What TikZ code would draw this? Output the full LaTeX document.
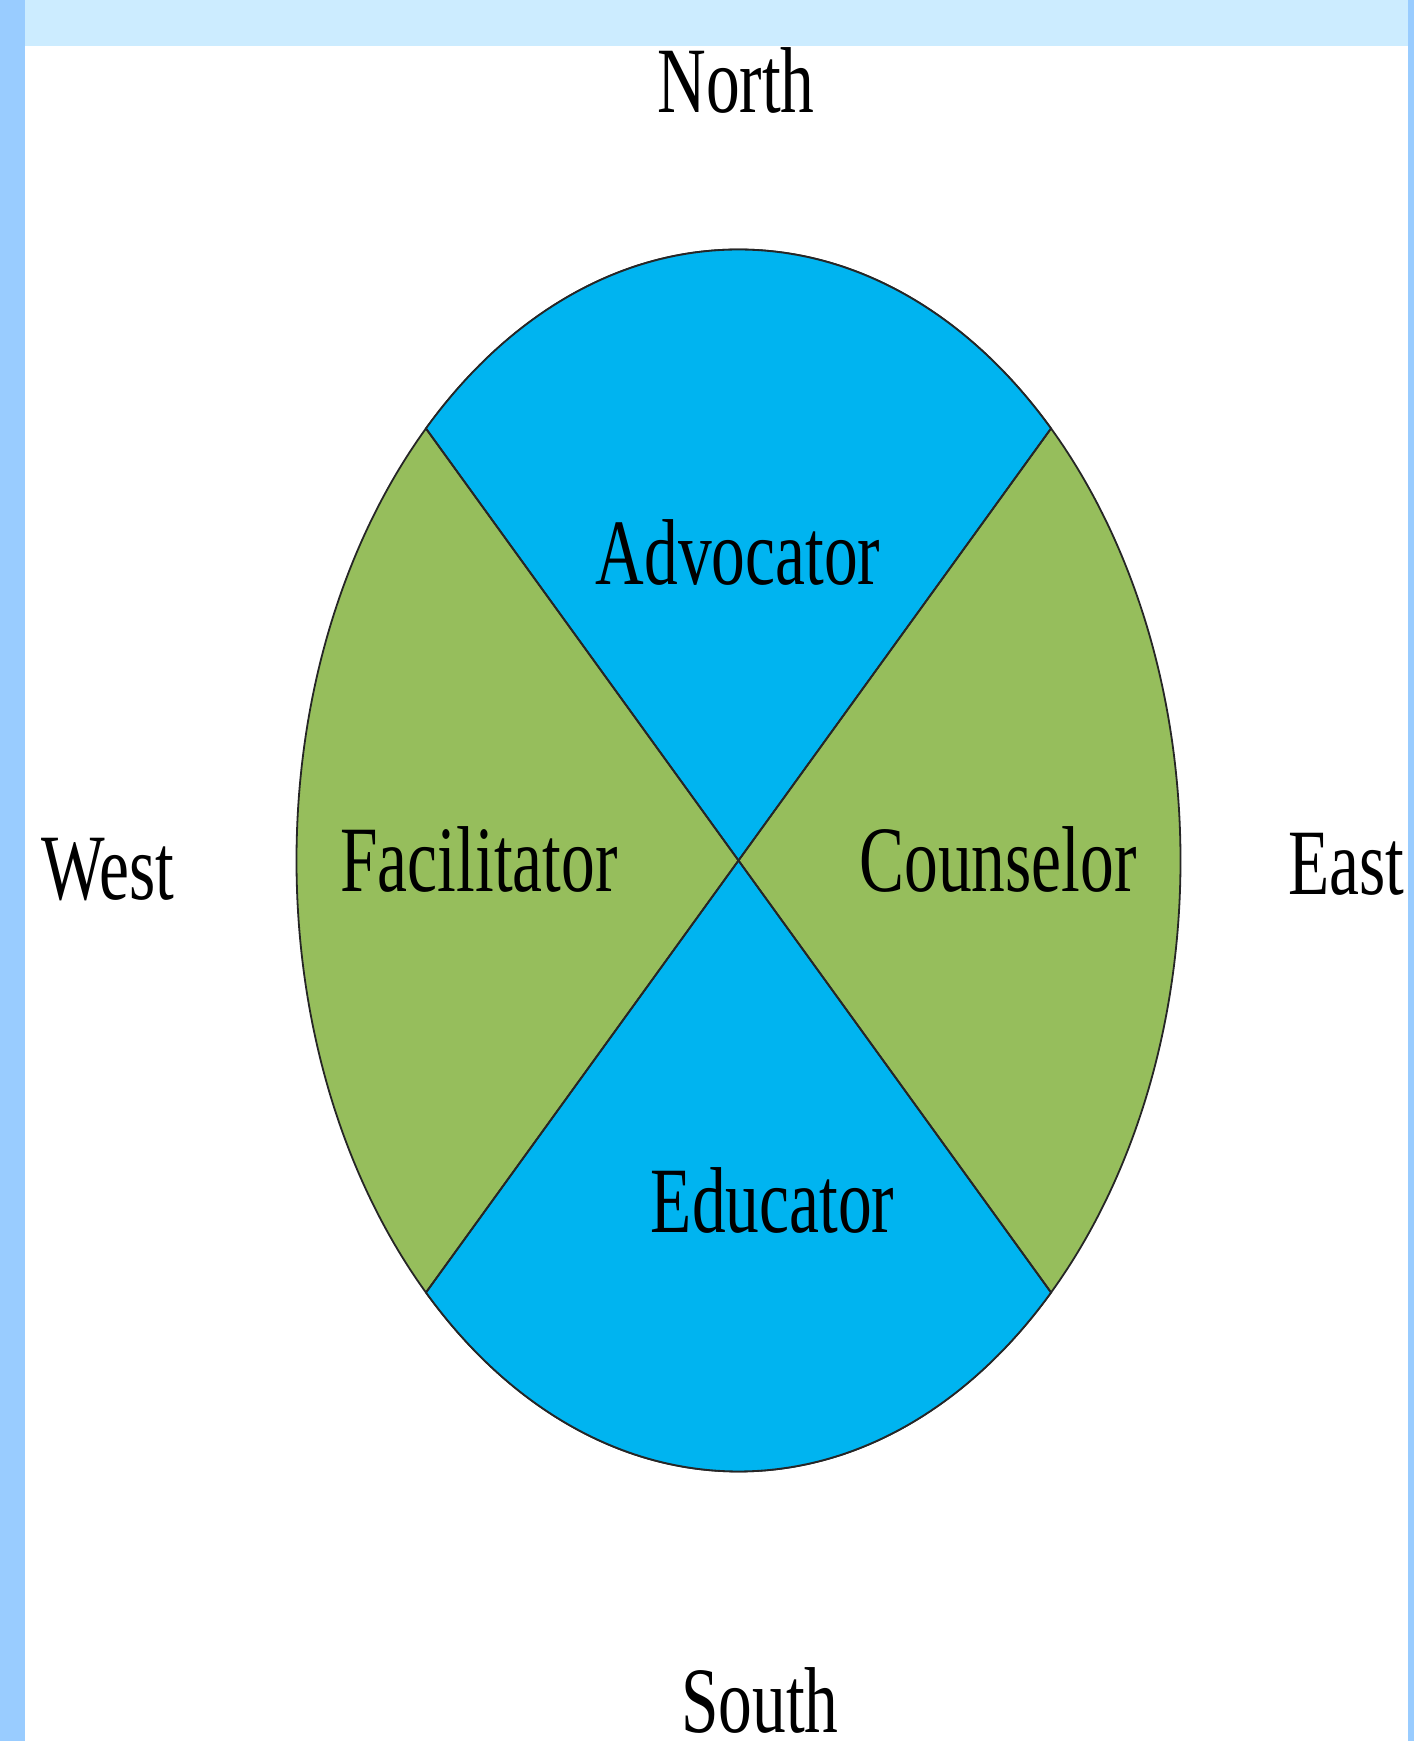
\documentclass[tikz,border=0pt]{standalone}
\usepackage{fontspec}
\setmainfont{Liberation Serif}

\definecolor{framebar}{HTML}{99CCFF}
\definecolor{topband}{HTML}{CCECFF}
\definecolor{roleblue}{HTML}{00B4F0}
\definecolor{rolegreen}{HTML}{96BE5C}

\begin{document}
\begin{tikzpicture}[
            x = 0.5pt, y = 0.5pt, % one unit per pixel
            word/.style = {font=\fontsize{46.8}{50}\selectfont,
            xscale=0.72, anchor=base, inner sep=0pt},
            sector/.style = {draw=black!85, line width=0.9pt},
            ]
            \useasboundingbox (0,0) rectangle (1414,1741);

            % frame around the slide
            \fill[framebar] (0,0) rectangle (25,1741);
            \fill[framebar] (1408,0) rectangle (1414,1741);
            \fill[topband] (25,1695) rectangle (1408,1741);

            % centre of the wheel and the four rim points
            \coordinate (c) at (738.5,880.5);
            \coordinate (ne) at (1051,1312.5);
            \coordinate (nw) at (426,1312.5);
            \coordinate (sw) at (426,448.5);
            \coordinate (se) at (1051,448.5);

            \filldraw[sector, fill=rolegreen] (c) ellipse [x radius=221pt, y radius=305.5pt];
            \filldraw[sector, fill=roleblue] (c) -- (ne)
            arc [start angle=45, end angle=135, x radius=221pt, y radius=305.5pt] -- cycle;
            \filldraw[sector, fill=roleblue] (c) -- (sw)
            arc [start angle=225, end angle=315, x radius=221pt, y radius=305.5pt] -- cycle;
            \draw[sector] (nw) -- (se);
            \draw[sector] (ne) -- (sw);

            % roles
            \node[word] (adv) at (738,1156) {Advocator};
            \node[word] (fac) at (479,849.3) {Facilitator};
            \node[word] (cou) at (998,849) {Counselor};
            \node[word] (edu) at (772.5,508) {Educator};

            % compass points
            \node[word] (n) at (736,1628.3) {North};
            \node[word] (s) at (760,9) {South};
            \node[word] (w) at (108,841) {West};
            \node[word] (e) at (1346.5,846) {East};
        \end{tikzpicture}
\end{document}
